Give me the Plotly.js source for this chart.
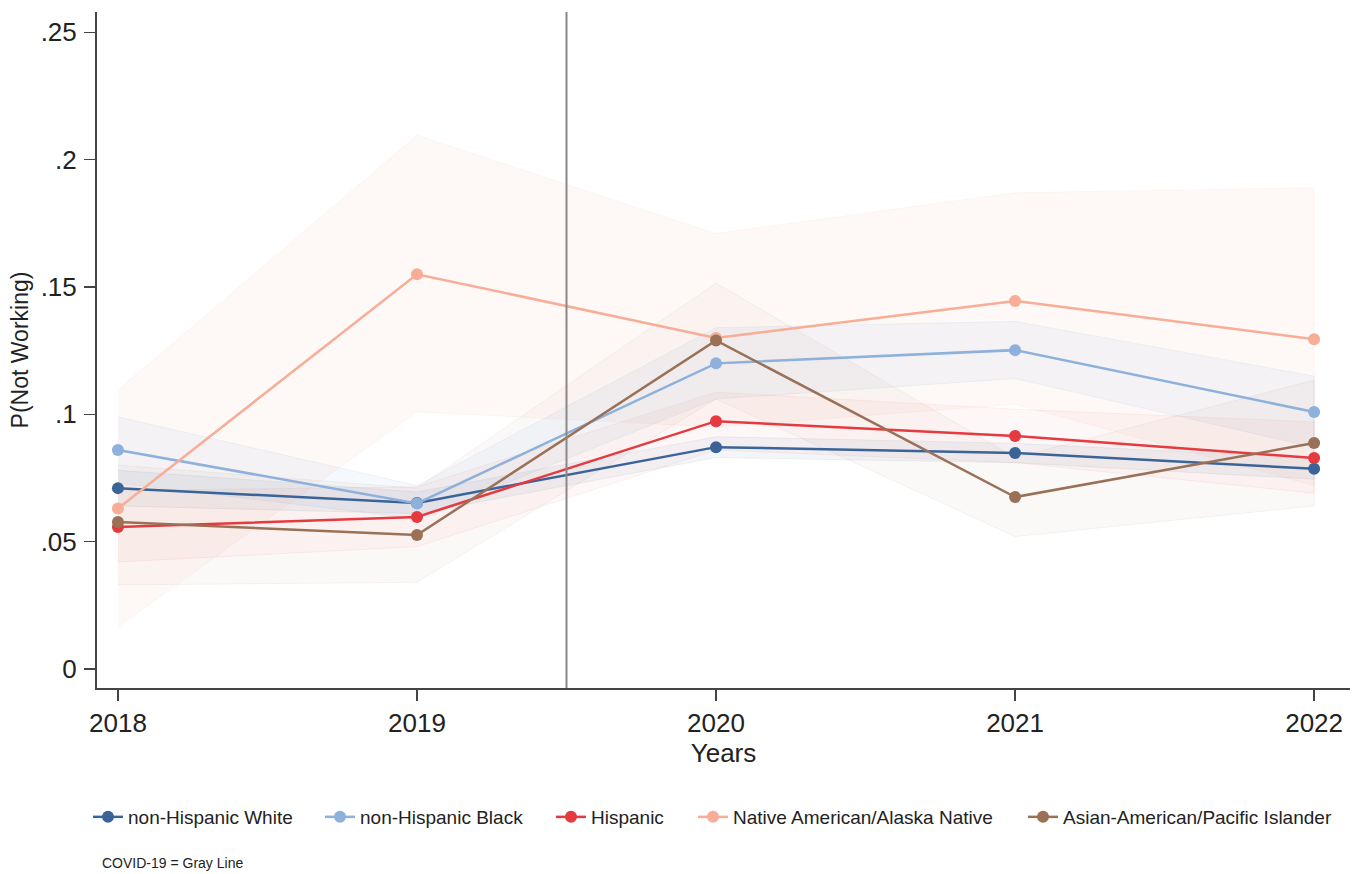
<!DOCTYPE html>
<html>
<head>
<meta charset="utf-8">
<script src="https://cdn.plot.ly/plotly-3.0.1.min.js"></script>
<style>html,body{margin:0;padding:0;background:#fff;}#chart{width:1360px;height:874px;}</style>
</head>
<body>
<div id="chart"></div>
<script>
const years = [2018, 2019, 2020, 2021, 2022];
const groupNames = ["non-Hispanic White", "non-Hispanic Black", "Hispanic", "Native American/Alaska Native", "Asian-American/Pacific Islander"];

const whiteVals  = [0.0710, 0.0652, 0.0871, 0.0848, 0.0786];
const blackVals  = [0.0860, 0.0650, 0.1200, 0.1252, 0.1009];
const hispVals   = [0.0557, 0.0597, 0.0973, 0.0915, 0.0828];
const nativeVals = [0.0630, 0.1550, 0.1300, 0.1445, 0.1295];
const asianVals  = [0.0577, 0.0526, 0.1290, 0.0675, 0.0887];

const whiteLo  = [0.0640, 0.0610, 0.0830, 0.0810, 0.0745];
const whiteHi  = [0.0780, 0.0695, 0.0912, 0.0886, 0.0827];
const blackLo  = [0.0730, 0.0590, 0.1060, 0.1140, 0.0870];
const blackHi  = [0.0990, 0.0720, 0.1340, 0.1365, 0.1150];
const hispLo   = [0.0420, 0.0480, 0.0860, 0.0810, 0.0690];
const hispHi   = [0.0700, 0.0715, 0.1087, 0.1020, 0.0970];
const nativeLo = [0.0165, 0.1010, 0.0950, 0.1040, 0.0720];
const nativeHi = [0.1095, 0.2096, 0.1710, 0.1870, 0.1890];
const asianLo  = [0.0330, 0.0340, 0.1060, 0.0520, 0.0640];
const asianHi  = [0.0800, 0.0710, 0.1515, 0.0830, 0.1134];

const covidYear = 2019.5;

const vals = [whiteVals, blackVals, hispVals, nativeVals, asianVals];
const los = [whiteLo, blackLo, hispLo, nativeLo, asianLo];
const his = [whiteHi, blackHi, hispHi, nativeHi, asianHi];
const colors = ["#3A6497", "#8DB1DA", "#E53A40", "#F7AD96", "#9A7157"];
const bandFills = ["rgba(58,100,151,0.06)", "rgba(141,177,218,0.09)", "rgba(229,58,64,0.045)", "rgba(247,173,150,0.08)", "rgba(154,113,87,0.045)"];
const bandEdges = ["rgba(58,100,151,0.08)", "rgba(141,177,218,0.12)", "rgba(229,58,64,0.07)", "rgba(247,173,150,0.10)", "rgba(154,113,87,0.08)"];

// legend entry text start positions (px)
const legendTextX = [129, 361, 592, 734, 1064];

const traces = [];
const bandOrder = [3, 1, 2, 4, 0];
bandOrder.forEach(i => {
  traces.push({
    x: years.concat(years.slice().reverse()),
    y: his[i].concat(los[i].slice().reverse()),
    type: 'scatter', mode: 'lines', fill: 'toself',
    fillcolor: bandFills[i],
    line: {color: bandEdges[i], width: 1},
    hoverinfo: 'skip', showlegend: false
  });
});
const legendIds = ['legend', 'legend2', 'legend3', 'legend4', 'legend5'];
groupNames.forEach((name, i) => {
  traces.push({
    x: years, y: vals[i], name: name,
    type: 'scatter', mode: 'lines+markers',
    line: {color: colors[i], width: 2.5},
    marker: {color: colors[i], size: 12},
    legend: legendIds[i]
  });
});

const layout = {
  width: 1360, height: 874,
  paper_bgcolor: '#ffffff', plot_bgcolor: '#ffffff',
  font: {family: 'Liberation Sans, Arial, sans-serif', color: '#222'},
  margin: {l: 97, r: 10, t: 12, b: 186},
  showlegend: true,
  xaxis: {
    range: [2017.93, 2022.12], tickvals: years, ticktext: years.map(String),
    showgrid: false, zeroline: false, showline: true, linecolor: '#444', linewidth: 2,
    ticks: 'outside', ticklen: 11, tickwidth: 1.5, tickcolor: '#444',
    tickfont: {size: 26, color: '#222'},
    title: {text: 'Years', font: {size: 26, color: '#222'}, standoff: 6}
  },
  yaxis: {
    range: [-0.0075, 0.258], tickvals: [0, 0.05, 0.1, 0.15, 0.2, 0.25],
    ticktext: ['0', '.05', '.1', '.15', '.2', '.25'],
    showgrid: false, zeroline: false, showline: true, linecolor: '#444', linewidth: 2,
    ticks: 'outside', ticklen: 11, tickwidth: 1.5, tickcolor: '#444',
    ticklabelstandoff: 2,
    tickfont: {size: 26, color: '#222'},
    title: {text: 'P(Not Working)', font: {size: 23, color: '#222'}, standoff: 6}
  },
  shapes: [{type: 'line', xref: 'x', yref: 'paper', x0: covidYear, x1: covidYear, y0: 0, y1: 1,
            line: {color: '#888', width: 2}}],
  annotations: [{text: 'COVID-19 = Gray Line', xref: 'paper', yref: 'paper', x: 0.0024, y: -0.259,
                 xanchor: 'left', yanchor: 'middle', showarrow: false, font: {size: 14, color: '#222'}}]
};
legendIds.forEach((id, i) => {
  layout[id] = {
    orientation: 'h', xref: 'container', yref: 'container',
    x: (legendTextX[i] - 41) / 1360, xanchor: 'left',
    y: 1 - 817 / 874, yanchor: 'middle',
    font: {size: 19, color: '#222'}, bgcolor: 'rgba(0,0,0,0)', borderwidth: 0
  };
});

Plotly.newPlot('chart', traces, layout, {displayModeBar: false, staticPlot: true});
</script>
</body>
</html>
